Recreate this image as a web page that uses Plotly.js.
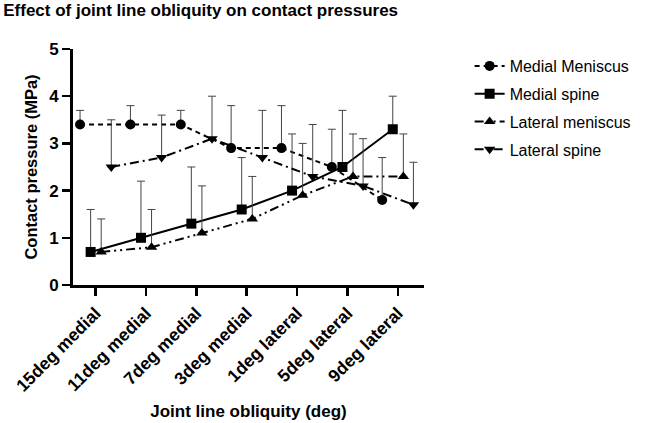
<!DOCTYPE html>
<html>
<head>
<meta charset="utf-8">
<script src="https://cdn.plot.ly/plotly-3.0.1.min.js"></script>
<style>html,body{margin:0;padding:0;background:#fff}#chart{width:648px;height:423px}</style>
</head>
<body>
<div id="chart"></div>
<script>
const categories = ["15deg medial","11deg medial","7deg medial","3deg medial","1deg lateral","5deg lateral","9deg lateral"];
const seriesNames = ["Medial Meniscus","Medial spine","Lateral meniscus","Lateral spine"];
const medialMeniscus = [3.4, 3.4, 3.4, 2.9, 2.9, 2.5, 1.8];
const medialMeniscusErr = [0.3, 0.4, 0.3, 0.9, 0.9, 0.8, 0.9];
const medialSpine = [0.7, 1.0, 1.3, 1.6, 2.0, 2.5, 3.3];
const medialSpineErr = [0.9, 1.2, 1.2, 1.1, 1.2, 1.2, 0.7];
const lateralMeniscus = [0.7, 0.8, 1.1, 1.4, 1.9, 2.3, 2.3];
const lateralMeniscusErr = [0.7, 0.8, 1.0, 0.9, 1.1, 0.9, 0.9];
const lateralSpine = [2.5, 2.7, 3.1, 2.7, 2.3, 2.1, 1.7];
const lateralSpineErr = [1.0, 0.9, 0.9, 1.0, 1.1, 1.0, 0.9];
const yTicks = [0, 1, 2, 3, 4, 5];

const offsets = [-0.31, -0.1, 0.11, 0.31];
const symbols = ["circle", "square", "triangle-up", "triangle-down"];
const dashes = ["5px,4px", "solid", "9px,4px,2px,4px,2px,4px", "9px,4px,2px,4px"];
const values = [medialMeniscus, medialSpine, lateralMeniscus, lateralSpine];
const errs = [medialMeniscusErr, medialSpineErr, lateralMeniscusErr, lateralSpineErr];

const traces = seriesNames.map((name, i) => ({
  type: "scatter",
  mode: "lines+markers",
  name: name,
  legendgroup: "g" + i,
  x: categories.map((c, j) => j + offsets[i]),
  y: values[i],
  line: {color: "#000", width: 2, dash: dashes[i]},
  marker: {symbol: symbols[i], size: 10, color: "#000"},
  error_y: {type: "data", symmetric: false, array: errs[i], arrayminus: errs[i].map(() => 0),
            color: "#444", thickness: 1, width: 4}
}));

const layout = {
  width: 648, height: 423,
  margin: {l: 73, r: 221, t: 49, b: 138},
  paper_bgcolor: "#fff", plot_bgcolor: "#fff",
  font: {family: "Liberation Sans, Arial, sans-serif", color: "#000"},
  title: {text: "<b>Effect of joint line obliquity on contact pressures</b>", x: 0.005, xanchor: "left", y: 0.99, yanchor: "top",
          font: {size: 17, color: "#000"}},
  xaxis: {
    range: [-0.45, 6.52], automargin: false,
    tickmode: "array", tickvals: categories.map((c, j) => j), ticktext: categories.map(c => "<b>" + c + "</b>"),
    tickangle: -45, ticks: "outside", ticklen: 8, tickwidth: 2.5, tickcolor: "#000",
    showline: true, linecolor: "#000", linewidth: 3, showgrid: false, zeroline: false,
    tickfont: {size: 17.5, color: "#000"},
    title: {text: "<b>Joint line obliquity (deg)</b>", font: {size: 17, color: "#000"}, standoff: 11}
  },
  yaxis: {
    range: [0, 5], automargin: false, tickmode: "array", tickvals: yTicks, ticktext: yTicks.map(v => "<b>" + v + "</b>"),
    ticks: "outside", ticklen: 8, tickwidth: 2.5, tickcolor: "#000",
    showline: true, linecolor: "#000", linewidth: 3, showgrid: false, zeroline: false,
    tickfont: {size: 17, color: "#000"},
    title: {text: "<b>Contact pressure (MPa)</b>", font: {size: 16.5, color: "#000"}, standoff: 8}
  },
  showlegend: true,
  legend: {x: 1.13, xanchor: "left", y: 1.0, yanchor: "top", traceorder: "grouped", tracegroupgap: 4,
           itemwidth: 30, font: {size: 16, color: "#000"}, bgcolor: "rgba(0,0,0,0)"}
};

Plotly.newPlot("chart", traces, layout, {displayModeBar: false, staticPlot: true});
</script>
</body>
</html>
